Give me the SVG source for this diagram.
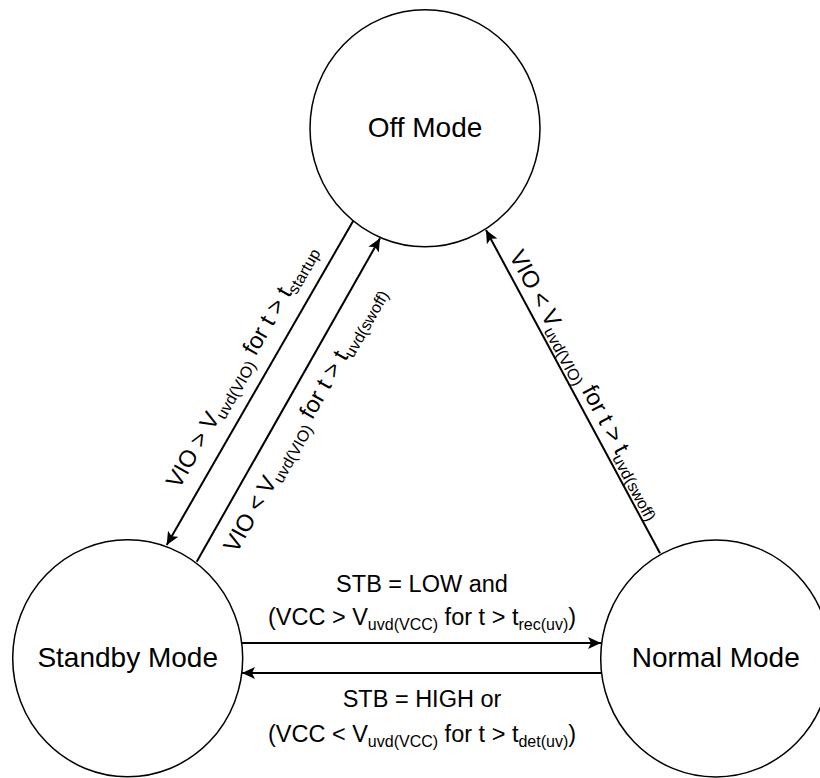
<svg xmlns="http://www.w3.org/2000/svg" width="820" height="778" viewBox="0 0 820 778">
<style>
.node{fill:#fff;stroke:#000;stroke-width:1.5}
.nlabel{font-family:"Liberation Sans",Arial,sans-serif;font-size:28px;fill:#000;text-anchor:middle}
.elabel{font-family:"Liberation Sans",Arial,sans-serif;font-size:23.5px;fill:#000;text-anchor:middle}
.sub{font-size:16px}
.edge{fill:none;stroke:#000;stroke-width:2}
</style>
<defs>
<marker id="arr" markerUnits="userSpaceOnUse" markerWidth="14" markerHeight="12" refX="13" refY="6" orient="auto" viewBox="0 0 14 12">
<path d="M0,0 L13,6 L0,12 L3,6 Z" fill="#000"/>
</marker>
</defs>
<rect width="820" height="778" fill="#fff"/>
<g id="off-mode">
<ellipse class="node" cx="425" cy="128.3" rx="115" ry="118.5"/>
<text class="nlabel" x="425" y="136.7">Off Mode</text>
</g>
<g id="standby-mode">
<ellipse class="node" cx="127.7" cy="658.3" rx="115" ry="118.5"/>
<text class="nlabel" x="127.7" y="666.7">Standby Mode</text>
</g>
<g id="normal-mode">
<ellipse class="node" cx="715.7" cy="658.5" rx="115" ry="118.5"/>
<text class="nlabel" x="715.7" y="667.3">Normal Mode</text>
</g>
<g id="connectors">
<line class="edge" x1="353.3" y1="220.7" x2="166.7" y2="545" marker-end="url(#arr)"/>
<line class="edge" x1="196.7" y1="561.7" x2="380" y2="238.3" marker-end="url(#arr)"/>
<line class="edge" x1="660" y1="553.3" x2="486" y2="230" marker-end="url(#arr)"/>
<line class="edge" x1="241.7" y1="643" x2="601" y2="643" marker-end="url(#arr)"/>
<line class="edge" x1="601.7" y1="673" x2="242" y2="673" marker-end="url(#arr)"/>
<text class="elabel" transform="translate(247.8,370.1) rotate(-60.1)">VIO &gt; V<tspan class="sub" dy="5">uvd(VIO)</tspan><tspan dy="-5"> for t &gt; t</tspan><tspan class="sub" dy="5">startup</tspan></text>
<text class="elabel" transform="translate(310.8,423.1) rotate(-60.45)">VIO &lt; V<tspan class="sub" dy="5">uvd(VIO)</tspan><tspan dy="-5"> for t &gt; t</tspan><tspan class="sub" dy="5">uvd(swoff)</tspan></text>
<text class="elabel" transform="translate(580,387.9) rotate(61.7)">VIO &lt; V<tspan class="sub" dy="5">uvd(VIO)</tspan><tspan dy="-5"> for t &gt; t</tspan><tspan class="sub" dy="5">uvd(swoff)</tspan></text>
<text class="elabel" x="422" y="591.7">STB = LOW and</text>
<text class="elabel" x="422" y="625">(VCC &gt; V<tspan class="sub" dy="5">uvd(VCC)</tspan><tspan dy="-5"> for t &gt; t</tspan><tspan class="sub" dy="5">rec(uv)</tspan><tspan dy="-5">)</tspan></text>
<text class="elabel" x="422" y="707">STB = HIGH or</text>
<text class="elabel" x="422" y="741.7">(VCC &lt; V<tspan class="sub" dy="5">uvd(VCC)</tspan><tspan dy="-5"> for t &gt; t</tspan><tspan class="sub" dy="5">det(uv)</tspan><tspan dy="-5">)</tspan></text>
</g>
</svg>
